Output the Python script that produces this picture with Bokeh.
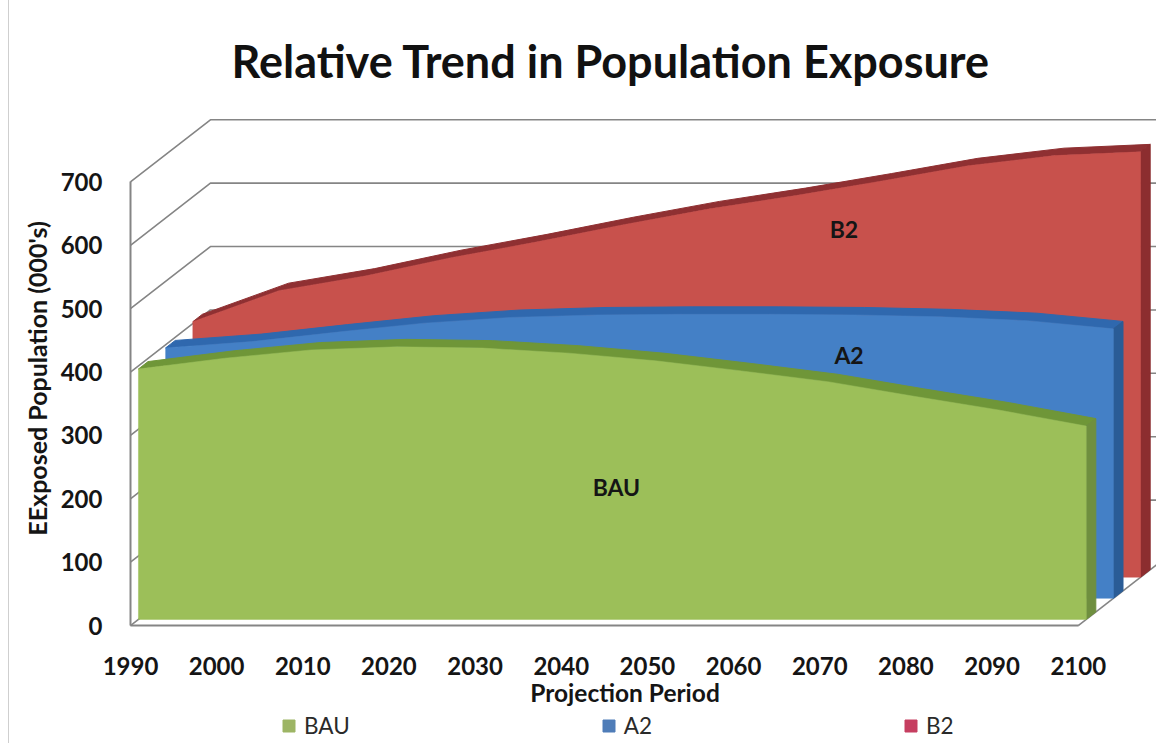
import math
from bokeh.plotting import figure
from bokeh.models import FixedTicker, Label, Legend, LegendItem, Range1d
from bokeh.embed import file_html
from bokeh.resources import INLINE

# ---- data ----
YEARS = [1990, 2000, 2010, 2020, 2030, 2040, 2050, 2060, 2070, 2080, 2090, 2100]
BAU = [395, 412, 425, 430, 428, 420, 408, 392, 375, 352, 330, 305]
A2 = [395, 405, 420, 434, 443, 447, 448, 448, 447, 444, 438, 425]
B2 = [403, 452, 475, 504, 529, 556, 581, 602, 625, 649, 665, 671]
Y_TICKS = [0, 100, 200, 300, 400, 500, 600, 700]
TITLE = "Relative Trend in Population Exposure"

# ---- 3-D look: the wall depth in axis units and each series' band in it ----
DEPTH_X = 9.28
DEPTH_Y = 98.0

FONT = "Lato"
INK = "#151515"
GRID = "#858585"


def proj(xs, ys, d):
    return [x + d * DEPTH_X for x in xs], [y + d * DEPTH_Y for y in ys]


p = figure(width=1148, height=743, output_backend="svg", toolbar_location=None,
           x_range=Range1d(1975.96, 2109.2), y_range=Range1d(-186, 800),
           min_border_left=0, min_border_right=0, min_border_top=118, min_border_bottom=0,
           background_fill_color="white", border_fill_color="white", outline_line_color=None)
p.styles = {"margin-left": "8px", "border-left": "1px solid #cfcfcf"}
p.grid.visible = False

# title
p.title.text = TITLE
p.title.text_font = FONT
p.title.text_font_size = "45px"
p.title.text_font_style = "bold"
p.title.text_color = "#111111"
p.title.align = "left"
p.title.offset = 222
p.title.standoff = 61

# axes (both stay at the data origin so that their labels share the one plot area)
for ax in (p.xaxis[0], p.yaxis[0]):
    ax.major_tick_line_color = None
    ax.minor_tick_line_color = None
    ax.axis_line_color = GRID
    ax.axis_line_width = 2
    ax.major_label_text_font = FONT
    ax.major_label_text_font_style = "bold"
    ax.major_label_text_font_size = "24px"
    ax.major_label_text_color = INK

p.xaxis[0].ticker = FixedTicker(ticks=YEARS[:])
p.xaxis[0].bounds = (YEARS[0], YEARS[-1])
p.xaxis[0].fixed_location = Y_TICKS[0]
p.xaxis[0].major_label_standoff = 25
p.yaxis[0].ticker = FixedTicker(ticks=Y_TICKS)
p.yaxis[0].bounds = (Y_TICKS[0], Y_TICKS[-1])
p.yaxis[0].fixed_location = YEARS[0]
p.yaxis[0].major_label_standoff = 22

# walls and floor
for t in Y_TICKS[1:]:
    p.line([YEARS[0], YEARS[0] + DEPTH_X, 2115], [t, t + DEPTH_Y, t + DEPTH_Y], line_color=GRID, line_width=1.6)
p.line([YEARS[0], YEARS[0] + DEPTH_X], [0, DEPTH_Y], line_color=GRID, line_width=1.6)
p.line([YEARS[-1], YEARS[-1] + DEPTH_X], [0, DEPTH_Y], line_color=GRID, line_width=1.6)

SERIES = [
    ("B2", B2, 0.78, 0.90, "#C8514C", "#8C2D2F", "#8F3032"),
    ("A2", A2, 0.44, 0.56, "#4480C6", "#2A5C96", "#2F68AE"),
    ("BAU", BAU, 0.10, 0.22, "#9CBF59", "#6F8F3F", "#6F9638"),
]
for name, vals, d0, d1, front, side, top in SERIES:
    fx, fy = proj(YEARS, vals, d0)
    bx, by = proj(YEARS, vals, d1)
    # top strip
    p.patch(fx + bx[::-1], fy + by[::-1], fill_color=top, line_color=top, line_width=1)
    # right-hand side
    sx0, sy0 = proj([YEARS[-1], YEARS[-1]], [0, vals[-1]], d0)
    sx1, sy1 = proj([YEARS[-1], YEARS[-1]], [vals[-1], 0], d1)
    p.patch(sx0 + sx1, sy0 + sy1, fill_color=side, line_color=side, line_width=1)
    # front face
    bx0, by0 = proj([YEARS[-1], YEARS[0]], [0, 0], d0)
    p.patch(fx + bx0, fy + by0, fill_color=front, line_color=front, line_width=0.5)

# in-chart series names
for text, year, val in [("BAU", 2046.4, 218), ("A2", 2073.4, 427), ("B2", 2072.8, 626)]:
    p.add_layout(Label(x=year, y=val, text=text, text_font=FONT, text_font_style="bold",
                       text_font_size="23px", text_color=INK, text_align="center", text_baseline="middle"))

# axis titles
p.add_layout(Label(x=2047.4, y=-106, text="Projection Period", text_font=FONT, text_font_style="bold",
                   text_font_size="24.5px", text_color=INK, text_align="center", text_baseline="middle"))
p.add_layout(Label(x=1979.1, y=390, text="EExposed Population (000's)", angle=math.pi / 2, text_font=FONT,
                   text_font_style="bold", text_font_size="25px", text_color=INK,
                   text_align="center", text_baseline="middle"))

# legend
keys = [("BAU", "#9DB565"), ("A2", "#4F7DB8"), ("B2", "#C63E60")]
items = []
for label, colour in keys:
    nan = float("nan")
    r = p.quad(left=[nan], right=[nan], top=[nan], bottom=[nan], fill_color=colour, line_color=colour)
    items.append(LegendItem(label=label, renderers=[r]))
legend = Legend(items=items, orientation="horizontal", location=(272, 4),
                spacing=251, glyph_width=15, glyph_height=15, label_standoff=8, padding=0, margin=0,
                background_fill_alpha=0, border_line_color=None,
                label_text_font=FONT, label_text_font_size="22.5px", label_text_color="#2a2a2a")
p.add_layout(legend, "center")

open("out.html", "w").write(file_html(p, INLINE))
